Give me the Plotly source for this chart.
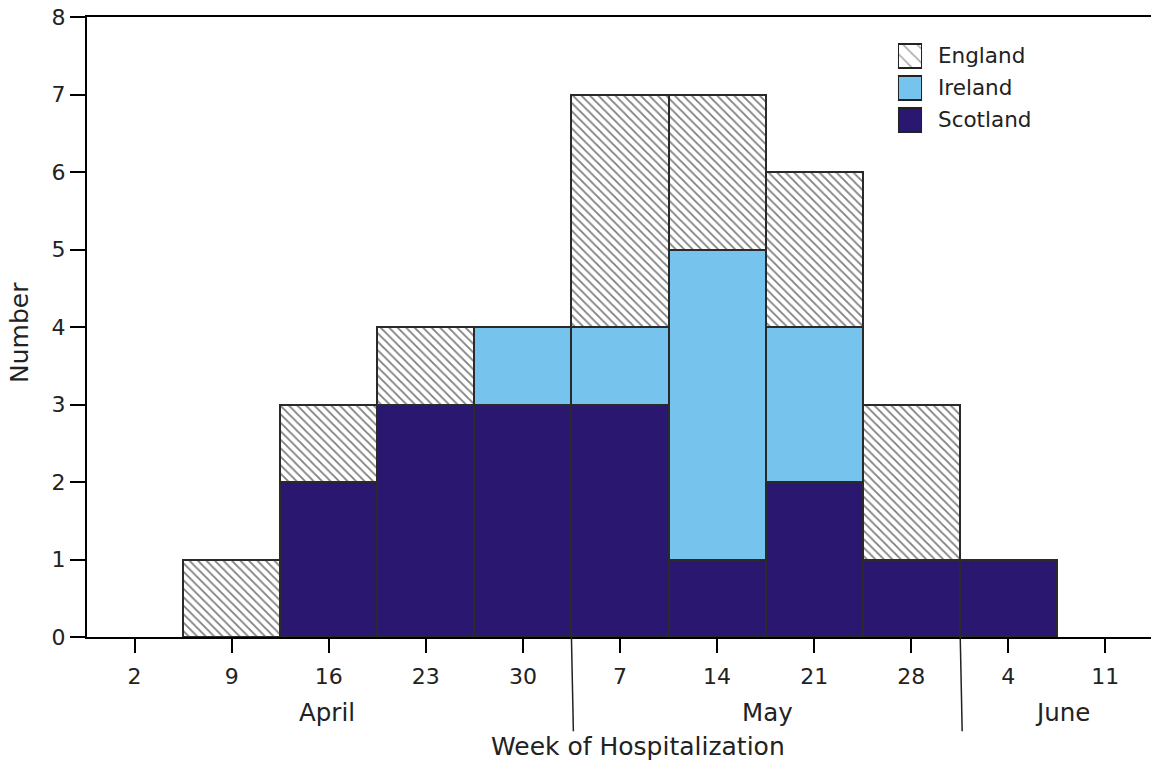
import plotly.graph_objects as go

# ---- data ----
week_labels = ["2", "9", "16", "23", "30", "7", "14", "21", "28", "4", "11"]
bar_weeks = ["9", "16", "23", "30", "7", "14", "21", "28", "4"]
scotland = [0, 2, 3, 3, 3, 1, 2, 1, 1]
ireland = [0, 0, 0, 1, 1, 4, 2, 0, 0]
england = [1, 1, 1, 0, 3, 2, 2, 2, 0]
y_ticks = [0, 1, 2, 3, 4, 5, 6, 7, 8]
months = ["April", "May", "June"]
month_pos = [1.98, 6.52, 9.56]        # category-index positions of month labels
month_breaks = [4.5, 8.505]           # category-index positions of month separators
legend_names = ["England", "Ireland", "Scotland"]

NAVY = "#2a1870"
BLUE = "#76c4ee"
EDGE = "#2a2a2a"
TXT = "#222222"
FONT = "DejaVu Sans"

fig = go.Figure()

fig.add_trace(go.Bar(x=bar_weeks, y=scotland, name="Scotland",
                     marker=dict(color=NAVY, line=dict(color=EDGE, width=2)),
                     showlegend=False))
fig.add_trace(go.Bar(x=bar_weeks, y=ireland, name="Ireland",
                     marker=dict(color=BLUE, line=dict(color=EDGE, width=2)),
                     showlegend=False))
fig.add_trace(go.Bar(x=bar_weeks, y=england, name="England",
                     marker=dict(color="white", line=dict(color=EDGE, width=2),
                                 pattern=dict(shape="\\", fgcolor="black", bgcolor="white",
                                              size=6, solidity=0.3)),
                     showlegend=False))

# ---- custom legend swatches on a small auxiliary axis ----
leg_x = [0, 0, 0]
leg_h = [0.75, 0.75, 0.75]
leg_base = [2.125, 1.125, 0.125]
fig.add_trace(go.Bar(x=leg_x, y=leg_h, base=leg_base, width=1,
                     xaxis="x2", yaxis="y2", showlegend=False, hoverinfo="skip",
                     marker=dict(color=["white", BLUE, NAVY],
                                 line=dict(color="#222222", width=2),
                                 pattern=dict(shape=["\\", "", ""], fgcolor="black",
                                              bgcolor="white", size=10, solidity=0.15))))

annotations = []
for name, yc in zip(legend_names, [2.5, 1.5, 0.5]):
    annotations.append(dict(text=name, x=0.798, y=yc, xref="paper", yref="y2",
                            xanchor="left", yanchor="middle", showarrow=False,
                            font=dict(family=FONT, size=21.5, color=TXT)))
for m, xp in zip(months, month_pos):
    annotations.append(dict(text=m, x=xp, y=-0.121, xref="x", yref="paper",
                            xanchor="center", yanchor="middle", showarrow=False,
                            font=dict(family=FONT, size=24.5, color=TXT)))
annotations.append(dict(text="Week of Hospitalization", x=0.518, y=-0.176,
                        xref="paper", yref="paper", xanchor="center", yanchor="middle",
                        showarrow=False, font=dict(family=FONT, size=25, color=TXT)))
annotations.append(dict(text="Number", x=-0.063, y=0.492, xref="paper", yref="paper",
                        xanchor="center", yanchor="middle", textangle=-90,
                        showarrow=False, font=dict(family=FONT, size=25, color=TXT)))

shapes = []
for xb in month_breaks:
    shapes.append(dict(type="line", xref="x", yref="paper", x0=xb, y0=0,
                       x1=xb + 0.02, y1=-0.152, line=dict(color="#222222", width=1.5)))

fig.update_layout(
    width=1151, height=761,
    margin=dict(l=87, r=0, t=17, b=124),
    paper_bgcolor="white", plot_bgcolor="white",
    barmode="stack", bargap=0,
    font=dict(family=FONT, size=20, color=TXT),
    xaxis=dict(type="category", categoryorder="array", categoryarray=week_labels,
               range=[-0.49, 10.47], showgrid=False, zeroline=False,
               showline=True, linecolor="black", linewidth=2, mirror=True,
               ticks="outside", ticklen=14, tickwidth=2, tickcolor="black",
               ticklabelstandoff=5, tickfont=dict(size=22)),
    yaxis=dict(range=[0, 8], tickvals=y_ticks, showgrid=False, zeroline=False,
               showline=True, linecolor="black", linewidth=2,
               ticks="outside", ticklen=15, tickwidth=2, tickcolor="black",
               tickfont=dict(size=22)),
    xaxis2=dict(domain=[0.7622, 0.7848], range=[-0.5, 0.5], visible=False,
                anchor="y2", fixedrange=True),
    yaxis2=dict(domain=[0.8097, 0.9637], range=[0, 3], visible=False,
                anchor="x2", fixedrange=True),
    annotations=annotations,
    shapes=shapes,
)

fig.write_html("out.html", config={"displayModeBar": False},
               post_script="document.body.style.margin='0';document.body.style.overflow='hidden';")
